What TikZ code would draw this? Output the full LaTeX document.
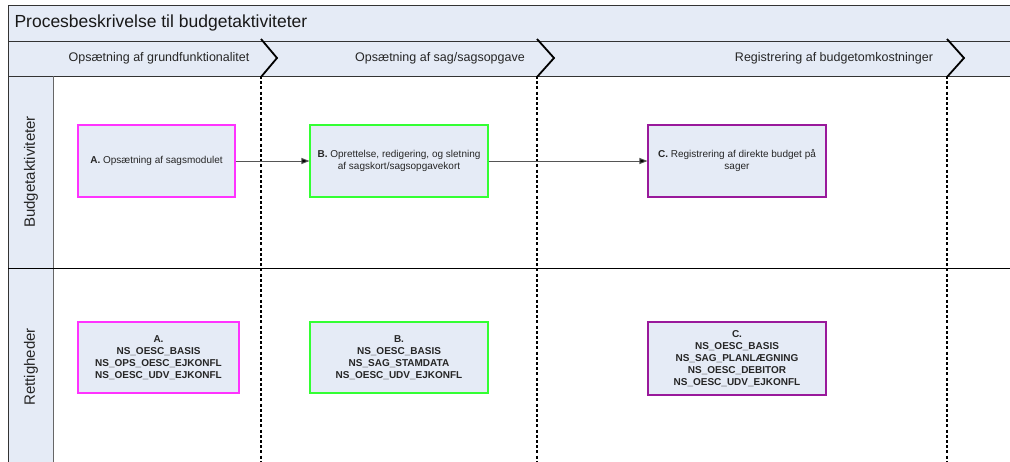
\documentclass[tikz,border=0pt]{standalone}
\usepackage{fontspec}
\setmainfont{Liberation Sans}
\usetikzlibrary{arrows.meta}
\definecolor{lane}{HTML}{E5EBF6}
\definecolor{magA}{HTML}{FF33FF}
\definecolor{grnB}{HTML}{33FF33}
\definecolor{purC}{HTML}{99199B}
\definecolor{frame}{HTML}{333333}
\definecolor{conn}{HTML}{555555}
\tikzset{
  actbox/.style={draw, line width=1.1pt, fill=lane, minimum height=72pt, align=center, inner sep=2pt,
    font=\fontsize{10}{12}\selectfont, text=black!85},
  rightbox/.style={actbox, font=\fontsize{10}{12}\selectfont\bfseries},
  phaselabel/.style={font=\fontsize{12.5}{15}\selectfont, text=black!85},
  lanelabel/.style={font=\fontsize{15}{18}\selectfont, text=black!85, rotate=90},
  sepline/.style={line width=2pt, dash pattern=on 3pt off 2.2pt, black},
  chev/.style={line width=1.8pt, black},
  flow/.style={conn, line width=0.9pt, -{Triangle[length=8pt,width=6pt,fill=black]}}
}
\begin{document}
\begin{tikzpicture}[x=1pt,y=-1pt]
\useasboundingbox (0,0) rectangle (1010,461);
% bands
\fill[lane] (8,5) rectangle (1012,76);
\fill[lane] (8,76) rectangle (53,463);
\draw[frame, line width=0.9pt] (1012,5) -- (8,5) -- (8,463);
\draw[frame, line width=0.9pt] (8,41) -- (1012,41);
\draw[frame, line width=0.9pt] (8,76) -- (1012,76);
\draw[black!60, line width=0.8pt] (53,76) -- (53,463);
\draw[black, line width=0.9pt] (8,268) -- (1012,268);
% title
\node[anchor=west, font=\fontsize{17.5}{20}\selectfont, text=black!90] (title) at (11,23) {Procesbeskrivelse til budgetaktiviteter};
% phase labels
\node[phaselabel] (p1) at (159,58) {Opsætning af grundfunktionalitet};
\node[phaselabel] (p2) at (440,58) {Opsætning af sag/sagsopgave};
\node[phaselabel] (p3) at (834,58) {Registrering af budgetomkostninger};
% separators
\coordinate (s1t) at (261,76); \coordinate (s1b) at (261,463);
\coordinate (s2t) at (537,76); \coordinate (s2b) at (537,463);
\coordinate (s3t) at (947,76); \coordinate (s3b) at (947,463);
\draw[sepline] (s1t) -- (s1b);
\draw[sepline] (s2t) -- (s2b);
\draw[sepline] (s3t) -- (s3b);
% chevrons
\draw[chev] (261,39) -- (277,58) -- (261,77);
\draw[chev] (537,39) -- (554,58) -- (537,77);
\draw[chev] (947,39) -- (964,58) -- (947,77);
% lane labels
\node[lanelabel] (l1) at (31,172) {Budgetaktiviteter};
\node[lanelabel] (l2) at (31,367) {Rettigheder};
% activity boxes
\node[actbox, draw=magA, minimum width=157pt] (A) at (156.5,161) {\textbf{A.} Opsætning af sagsmodulet};
\node[actbox, draw=grnB, minimum width=178pt] (B) at (399,161) {\textbf{B.} Oprettelse, redigering, og sletning\\af sagskort/sagsopgavekort};
\node[actbox, draw=purC, minimum width=178pt] (C) at (737,161) {\textbf{C.} Registrering af direkte budget på\\sager};
% rights boxes
\node[rightbox, draw=magA, minimum width=161pt, minimum height=71pt] (A2) at (158.5,357.5) {A.\\NS\_OESC\_BASIS\\NS\_OPS\_OESC\_EJKONFL\\NS\_OESC\_UDV\_EJKONFL};
\node[rightbox, draw=grnB, minimum width=178pt, minimum height=71pt] (B2) at (399,357.5) {B.\\NS\_OESC\_BASIS\\NS\_SAG\_STAMDATA\\NS\_OESC\_UDV\_EJKONFL};
\node[rightbox, draw=purC, minimum width=178pt, minimum height=73pt] (C2) at (737,358.5) {C.\\NS\_OESC\_BASIS\\NS\_SAG\_PLANLÆGNING\\NS\_OESC\_DEBITOR\\NS\_OESC\_UDV\_EJKONFL};
% flows
\draw[flow] (A) -- (B);
\draw[flow] (B) -- (C);
\end{tikzpicture}
\end{document}
